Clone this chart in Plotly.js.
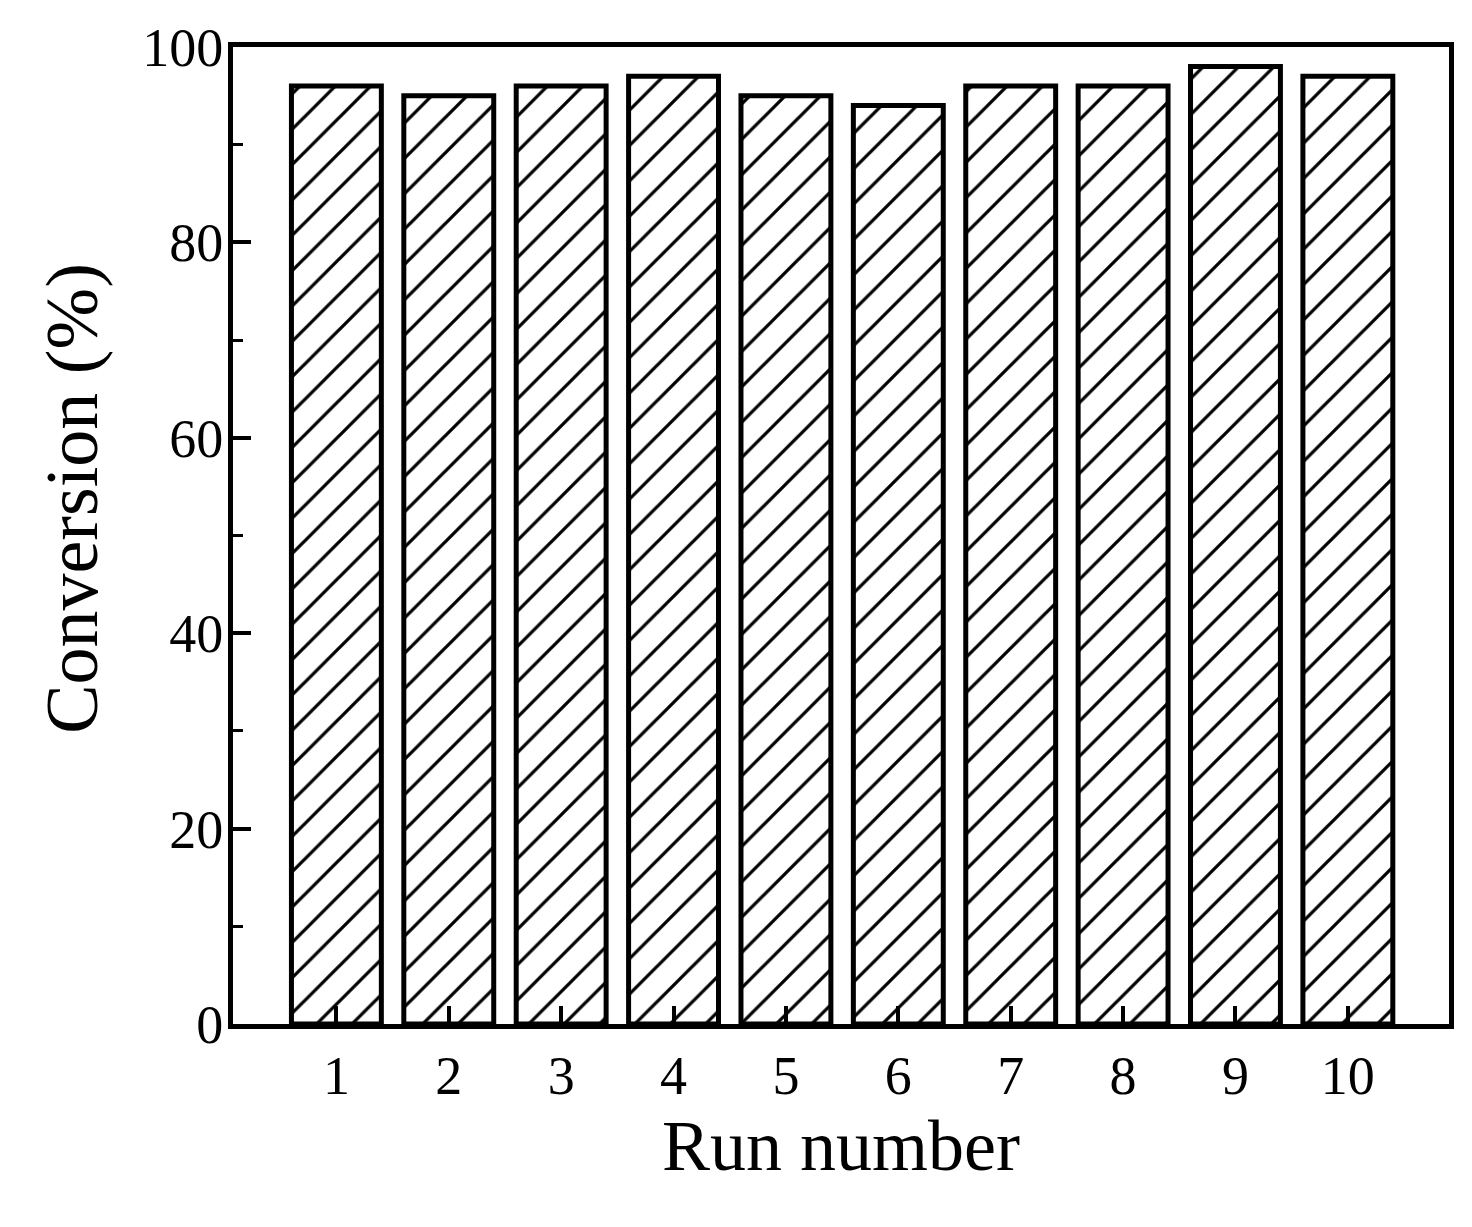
<!DOCTYPE html>
<html>
<head>
<meta charset="utf-8">
<script src="https://cdn.plot.ly/plotly-3.0.1.min.js"></script>
<style>
  html, body { margin: 0; padding: 0; background: #fff; }
  #chart { width: 1472px; height: 1227px; }
</style>
</head>
<body>
<div id="chart"></div>
<script>
const runNumbers = [1, 2, 3, 4, 5, 6, 7, 8, 9, 10];
const conversion = [96, 95, 96, 97, 95, 94, 96, 96, 98, 97];
const yTicks = [0, 20, 40, 60, 80, 100];

const font = "Liberation Serif, Times New Roman, serif";

const trace = {
  type: 'bar',
  x: runNumbers,
  y: conversion,
  width: 0.8,
  marker: {
    color: 'white',
    line: { color: 'black', width: 5 },
    pattern: { shape: '/', fgcolor: 'black', bgcolor: 'white', size: 25, solidity: 0.13 },
  },
  hoverinfo: 'x+y',
};

const layout = {
  width: 1472,
  height: 1227,
  margin: { t: 47, r: 23, b: 203, l: 233 },
  paper_bgcolor: 'white',
  plot_bgcolor: 'white',
  showlegend: false,
  font: { family: font, color: 'black', size: 54 },
  xaxis: {
    range: [0.08, 10.9],
    tickvals: runNumbers,
    ticktext: runNumbers.map(String),
    ticks: 'inside',
    ticklen: 18,
    tickwidth: 4,
    tickcolor: 'black',
    showline: true,
    linewidth: 5,
    linecolor: 'black',
    mirror: true,
    showgrid: false,
    zeroline: false,
    tickfont: { family: font, size: 54 },
    title: { text: 'Run number', font: { family: font, size: 72 }, standoff: 16 },
  },
  yaxis: {
    range: [0, 100],
    tickvals: yTicks,
    ticks: 'inside',
    ticklen: 18,
    tickwidth: 4,
    tickcolor: 'black',
    minor: { dtick: 10, tick0: 0, ticks: 'inside', ticklen: 10, tickwidth: 3, tickcolor: 'black', showgrid: false },
    showline: true,
    linewidth: 5,
    linecolor: 'black',
    mirror: true,
    showgrid: false,
    zeroline: false,
    ticklabelstandoff: -6,
    tickfont: { family: font, size: 54 },
  },
  annotations: [{
    text: 'Conversion (%)',
    xref: 'paper', yref: 'paper',
    x: -0.132, y: 0.538,
    xanchor: 'center', yanchor: 'middle',
    textangle: -90,
    showarrow: false,
    font: { family: font, size: 74, color: 'black' },
  }],
};

Plotly.newPlot('chart', [trace], layout, { displayModeBar: false, staticPlot: true });
</script>
</body>
</html>
